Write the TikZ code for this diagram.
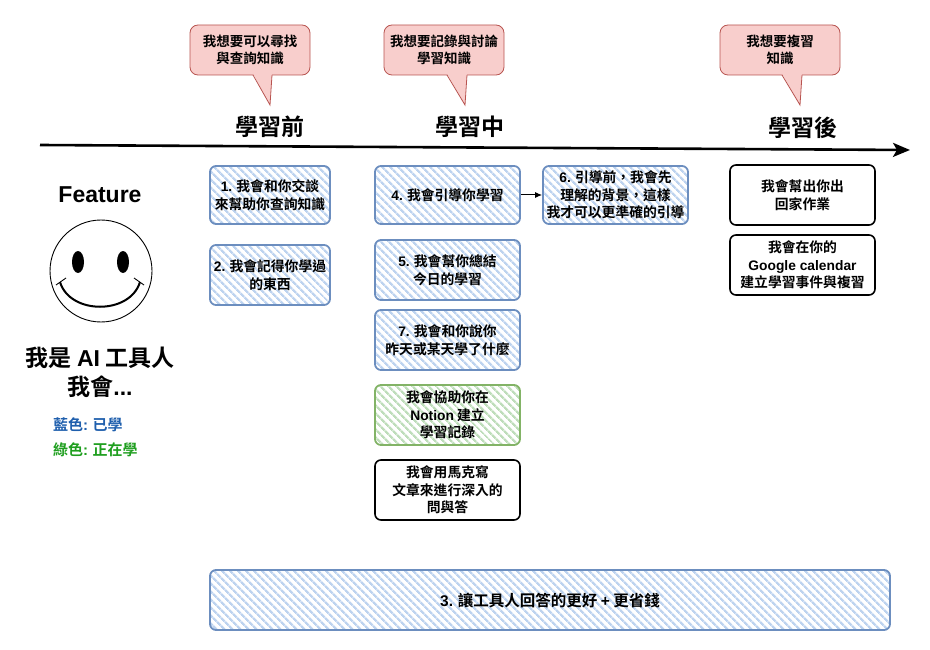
\documentclass[tikz,border=0pt]{standalone}
\usepackage{fontspec}
\setmainfont{Noto Sans CJK TC}[BoldFont={* Bold}]
\newfontfamily\lt{Liberation Sans}[BoldFont={* Bold}]
\usetikzlibrary{patterns.meta,arrows.meta}
\definecolor{bstroke}{HTML}{6C8EBF}
\definecolor{bhatch}{HTML}{BDD3EF}
\definecolor{gstroke}{HTML}{82B366}
\definecolor{ghatch}{HTML}{BEDDBA}
\definecolor{cstroke}{HTML}{B85450}
\definecolor{cfill}{HTML}{F8CECC}
\definecolor{legblue}{HTML}{1F5FAD}
\definecolor{leggreen}{HTML}{1E9E1E}
\tikzset{
  hdr/.style={font=\fontsize{23}{26}\selectfont\bfseries, inner sep=0pt},
  boxbase/.style={rounded corners=6pt, align=center, inner sep=0pt,
    font=\fontsize{13.8}{17.5}\selectfont\bfseries},
  bluebox/.style={boxbase, draw=bstroke, line width=1.8pt,
    pattern={Lines[angle=-45,distance=5.4pt,line width=2.4pt]}, pattern color=bhatch},
  greenbox/.style={boxbase, draw=gstroke, line width=1.8pt,
    pattern={Lines[angle=-45,distance=5.4pt,line width=2.4pt]}, pattern color=ghatch},
  blackbox/.style={boxbase, draw=black, line width=1.6pt, fill=white},
  callbox/.style={rounded corners=8pt, draw=cstroke, fill=cfill, line width=0.8pt,
    minimum width=120pt, minimum height=50pt, align=center, inner sep=0pt,
    font=\fontsize{13.5}{17}\selectfont\bfseries},
  tailfill/.style={fill=cfill},
  tailline/.style={draw=cstroke, line width=0.8pt},
  bigtext/.style={font=\fontsize{23}{29}\selectfont\bfseries, align=center, inner sep=0pt},
  legend/.style={font=\fontsize{15}{18}\selectfont\bfseries, anchor=west, inner sep=0pt},
}
\begin{document}
\begin{tikzpicture}[x=1pt,y=-1pt]
\useasboundingbox (0,0) rectangle (930,650);

% timeline
\coordinate (tl0) at (40,145);
\coordinate (tl1) at (910,150);
\draw[line width=2.6pt, -{Stealth[length=17pt,width=14pt,inset=4pt]}] (tl0) -- (tl1);

% headers
\node[hdr] (h1) at (270,127) {學習前};
\node[hdr] (h2) at (470,127) {學習中};
\node[hdr] (h3) at (803,128) {學習後};

% callouts
\node[callbox] (c1) at (250,50) {我想要可以尋找\\與查詢知識};
\coordinate (t1a) at (253,75); \coordinate (t1tip) at (270,105); \coordinate (t1b) at (272,75);
\fill[tailfill] ([yshift=1.5pt]t1a) -- (t1tip) -- ([yshift=1.5pt]t1b) -- cycle;
\draw[tailline] (t1a) -- (t1tip) -- (t1b);

\node[callbox] (c2) at (444,50) {我想要記錄與討論\\學習知識};
\coordinate (t2a) at (447,75); \coordinate (t2tip) at (465,105); \coordinate (t2b) at (467,75);
\fill[tailfill] ([yshift=1.5pt]t2a) -- (t2tip) -- ([yshift=1.5pt]t2b) -- cycle;
\draw[tailline] (t2a) -- (t2tip) -- (t2b);

\node[callbox] (c3) at (780,50) {我想要複習\\知識};
\coordinate (t3a) at (782,75); \coordinate (t3tip) at (800,105); \coordinate (t3b) at (802,75);
\fill[tailfill] ([yshift=1.5pt]t3a) -- (t3tip) -- ([yshift=1.5pt]t3b) -- cycle;
\draw[tailline] (t3a) -- (t3tip) -- (t3b);

% left column
\node[font=\lt\fontsize{23}{26}\selectfont\bfseries, inner sep=0pt] (feat) at (100,195) {Feature};
\draw[line width=0.9pt] (101,271) circle[radius=51];
\fill (78,262) ellipse[x radius=6, y radius=11];
\fill (123,262) ellipse[x radius=6, y radius=11];
\draw[line width=2pt] (60,282) .. controls (70,315) and (130,315) .. (140,282);
\draw[line width=0.9pt] (56,285) -- (66,278);
\draw[line width=0.9pt] (134,278) -- (144,285);
\node[bigtext] (me) at (100,372) {我是 {\lt AI} 工具人\\我會{\lt ...}};
\node[legend, text=legblue] (lg1) at (53,425) {藍色{\lt :} 已學};
\node[legend, text=leggreen] (lg2) at (53,450) {綠色{\lt :} 正在學};

% before
\node[bluebox, minimum width=120pt, minimum height=58pt] (b1) at (270,195) {{\lt 1.} 我會和你交談\\來幫助你查詢知識};
\node[bluebox, minimum width=120pt, minimum height=60pt] (b2) at (270,275) {{\lt 2.} 我會記得你學過\\的東西};

% during
\node[bluebox, minimum width=145pt, minimum height=58pt] (b4) at (447.5,195) {{\lt 4.} 我會引導你學習};
\node[bluebox, minimum width=145pt, minimum height=58pt] (b6) at (615.5,195) {{\lt 6.} 引導前，我會先\\理解的背景，這樣\\我才可以更準確的引導};
\node[bluebox, minimum width=145pt, minimum height=60pt] (b5) at (447.5,270) {{\lt 5.} 我會幫你總結\\今日的學習};
\node[bluebox, minimum width=145pt, minimum height=60pt] (b7) at (447.5,340) {{\lt 7.} 我會和你說你\\昨天或某天學了什麼};
\node[greenbox, minimum width=145pt, minimum height=60pt] (bg) at (447.5,415) {我會協助你在\\{\lt Notion} 建立\\學習記錄};
\node[blackbox, minimum width=145pt, minimum height=60pt] (bk) at (447.5,490) {我會用馬克寫\\文章來進行深入的\\問與答};
\draw[line width=1pt, -{Latex[length=7pt,width=6pt]}] (b4.east) -- (b6.west);

% after
\node[blackbox, minimum width=145pt, minimum height=60pt] (ba) at (802.5,195) {我會幫出你出\\回家作業};
\node[blackbox, minimum width=145pt, minimum height=60pt] (bb) at (802.5,265) {我會在你的\\{\lt Google calendar}\\建立學習事件與複習};

% bottom
\node[bluebox, minimum width=680pt, minimum height=60pt, font=\fontsize{15.5}{18}\selectfont\bfseries] (b3) at (550,600) {{\lt 3.} 讓工具人回答的更好 {\lt +} 更省錢};
\end{tikzpicture}
\end{document}
